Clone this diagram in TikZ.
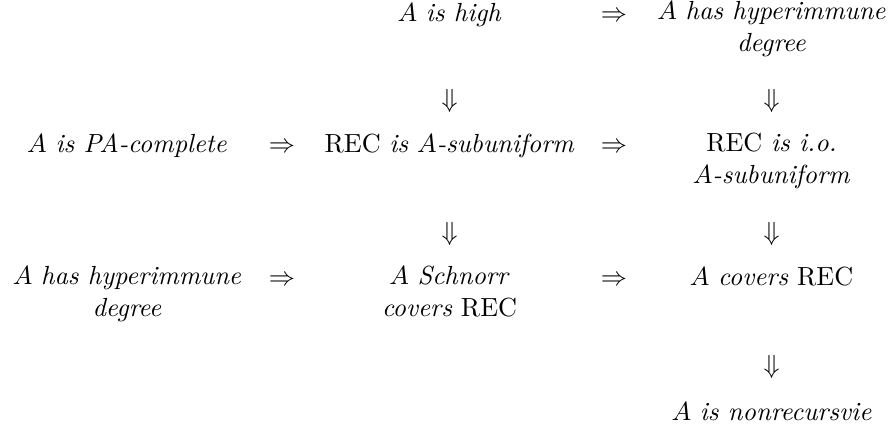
\documentclass[tikz,border=0pt]{standalone}
\begin{document}
\begin{tikzpicture}[x=0.3817pt,y=-0.3817pt,
  txt/.style={anchor=base,align=center,inner sep=0pt},
  arr/.style={anchor=base,inner sep=0pt},
  darr/.style={inner sep=0pt}]
\useasboundingbox (0,0) rectangle (891,427);
% row 1
\node[txt] (high) at (449.5,21) {$A$ \textit{is high}};
\node[txt] (hyp1) at (771.5,51) {$A$ \textit{has hyperimmune}\\ \textit{degree}};
\node[arr] (a1) at (614,21) {$\Rightarrow$};
% down arrows 1
\node[darr] (d1) at (449.5,101) {$\Downarrow$};
\node[darr] (d2) at (771.5,101) {$\Downarrow$};
% row 2
\node[txt] (pa) at (127,152) {$A$ \textit{is PA-complete}};
\node[txt] (sub) at (449.5,152) {REC \textit{is} $A$\textit{-subuniform}};
\node[txt] (io) at (771.5,183) {REC \textit{is i.o.}\\ $A$\textit{-subuniform}};
\node[arr] (a2) at (282,152) {$\Rightarrow$};
\node[arr] (a3) at (614,152) {$\Rightarrow$};
% down arrows 2
\node[darr] (d3) at (449.5,234) {$\Downarrow$};
\node[darr] (d4) at (771.5,234) {$\Downarrow$};
% row 3
\node[txt] (hyp2) at (127,316) {$A$ \textit{has hyperimmune}\\ \textit{degree}};
\node[txt] (sch) at (449.5,316) {$A$ \textit{Schnorr}\\ \textit{covers} REC};
\node[txt] (cov) at (771.5,285) {$A$ \textit{covers} REC};
\node[arr] (a4) at (282,285) {$\Rightarrow$};
\node[arr] (a5) at (614,285) {$\Rightarrow$};
% down arrow 3
\node[darr] (d5) at (771.5,367) {$\Downarrow$};
% row 4
\node[txt] (nonrec) at (771.5,420) {$A$ \textit{is nonrecursvie}};
\end{tikzpicture}
\end{document}
